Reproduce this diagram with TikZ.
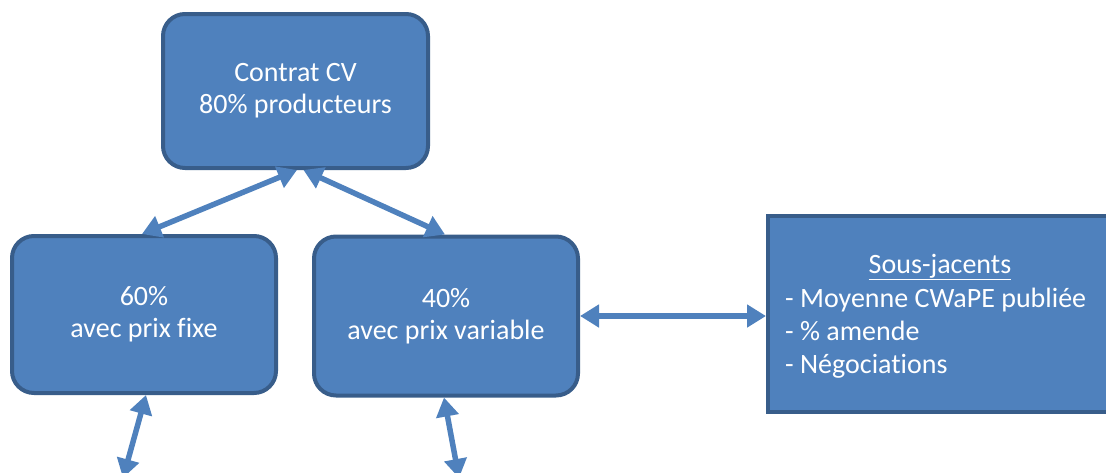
\documentclass[tikz,border=0pt]{standalone}
\usepackage{fontspec}
\setmainfont{Carlito}[Ligatures=NoCommon]
\usetikzlibrary{arrows.meta,calc}
\definecolor{boxfill}{HTML}{4F81BD}
\definecolor{boxline}{HTML}{385D8A}
\begin{document}
\begin{tikzpicture}[x=1pt,y=-1pt,
  rbox/.style={draw=boxline,fill=boxfill,line width=4pt,rounded corners=22pt,
    minimum width=#1,inner sep=0pt,text=white,align=center,
    font=\fontsize{28}{32}\selectfont},
  sbox/.style={draw=boxline,fill=boxfill,line width=4pt,inner sep=0pt},
  wtext/.style={text=white,font=\fontsize{28}{33}\selectfont,inner sep=0pt},
  link/.style={draw=boxfill,line width=5.5pt,{Triangle[length=19pt,width=22pt]}-{Triangle[length=19pt,width=22pt]}}]
\useasboundingbox (0,0) rectangle (1106,472);
\node[rbox=265pt,minimum height=154pt] (top) at (295.5,91) {Contrat CV\\80\% producteurs};
\node[rbox=264pt,minimum height=157pt] (left) at (144,314.5) {60\%\\avec prix fixe};
\node[rbox=264pt,minimum height=159pt] (mid) at (446,316) {40\%\\avec prix variable};
\node[sbox,minimum width=345pt,minimum height=196pt] (right) at (940.5,314) {};
\node[wtext] (head) at (940,267) {\underline{Sous-jacents}};
\node[wtext,anchor=west,align=left] (list) at (785,333) {- Moyenne CWaPE publiée\\- \% amende\\- Négociations};
\coordinate (bl) at (123,478);
\coordinate (br) at (459,478);
\draw[link] ([xshift=1.5pt]top.south) -- ([xshift=-2pt]left.north);
\draw[link] ([xshift=8pt]top.south) -- ([xshift=-1pt]mid.north);
\draw[link] (mid.east) -- (mid.east -| right.west);
\draw[link] ([xshift=2pt]left.south) -- (bl);
\draw[link] ([xshift=-2pt]mid.south) -- (br);
\end{tikzpicture}
\end{document}
